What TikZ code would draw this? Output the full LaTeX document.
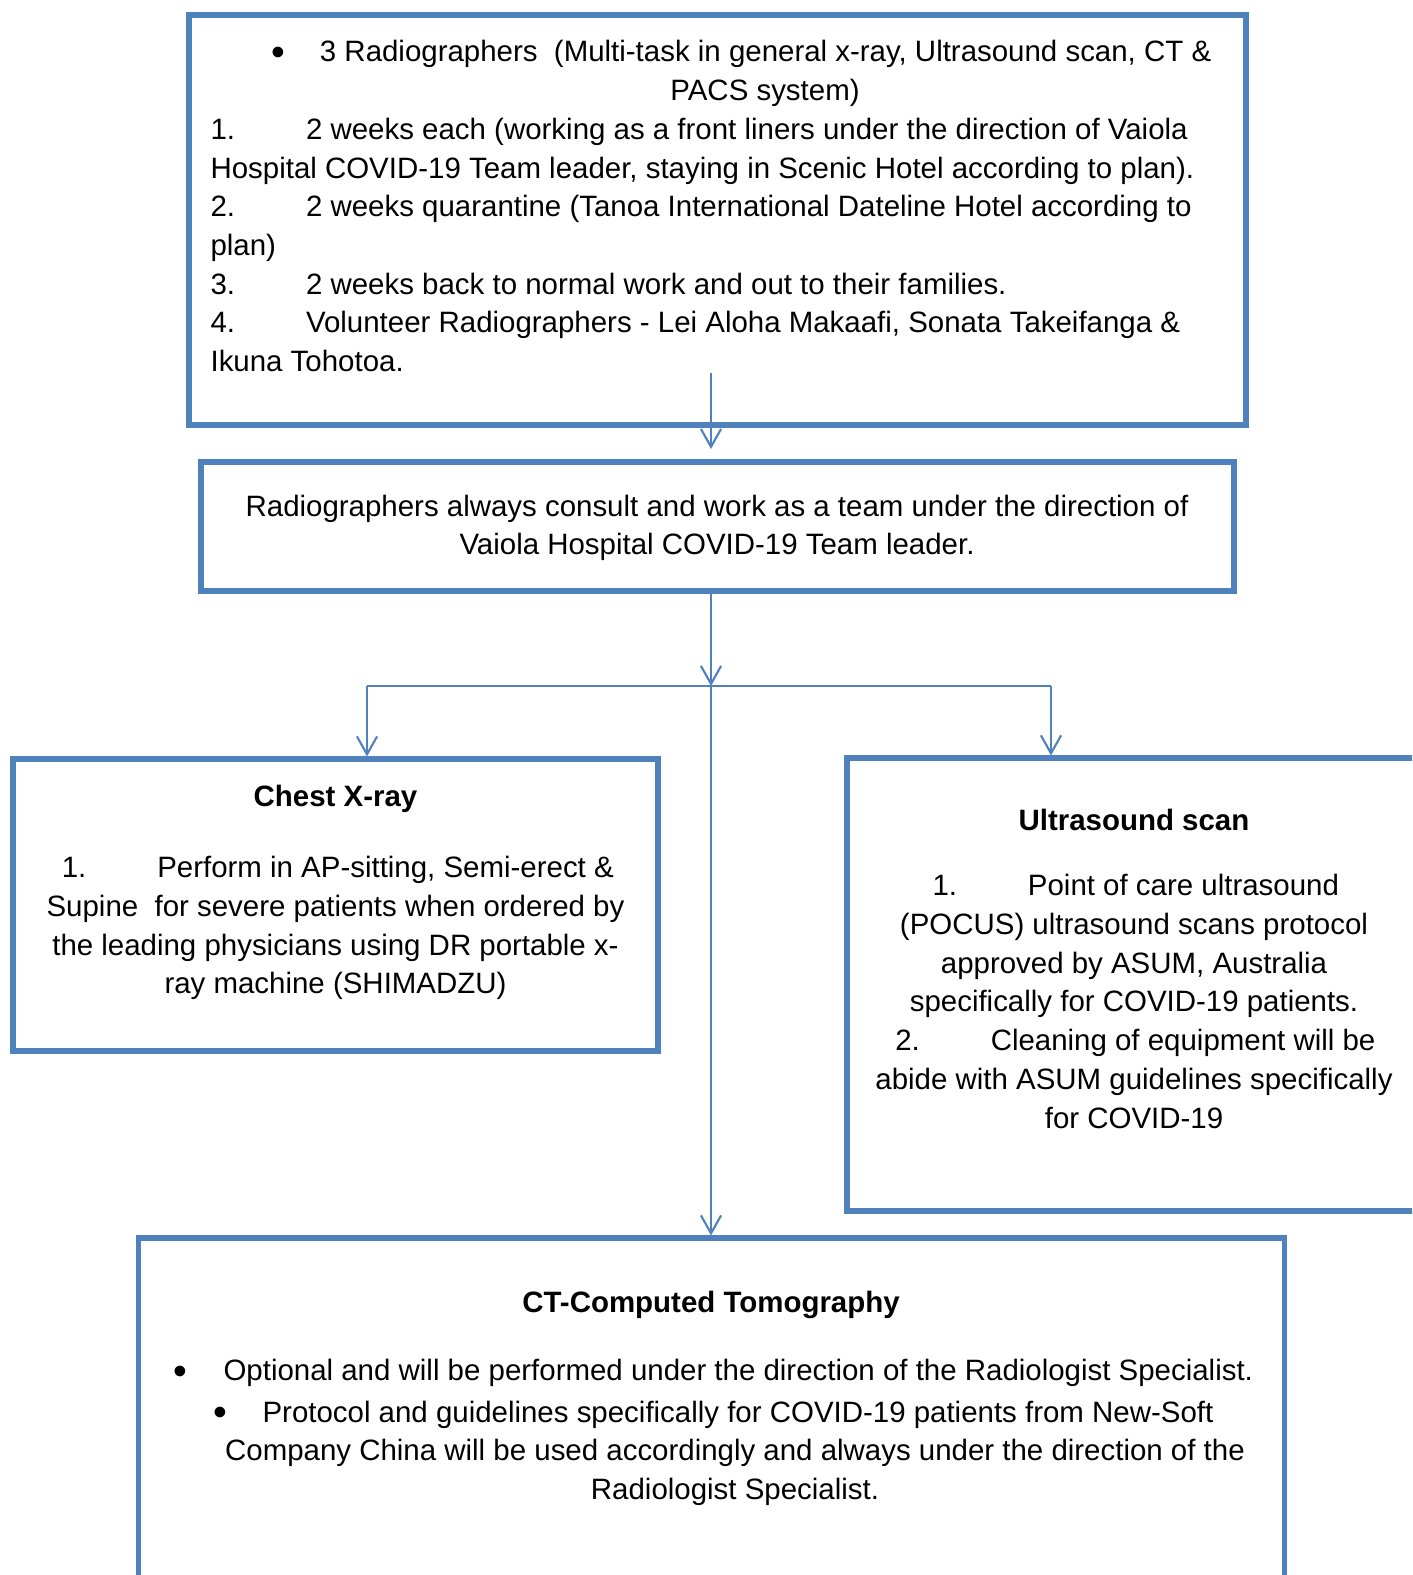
\documentclass[tikz,border=0pt]{standalone}
\usepackage{fontspec}
\setmainfont{Liberation Sans}
\usetikzlibrary{arrows.meta,fit}
\definecolor{frame}{HTML}{4F81BD}
\begin{document}
\begin{tikzpicture}[x=0.3566pt,y=-0.3566pt,
  panel/.style={draw=frame, line width=1.8pt, inner sep=0pt},
  link/.style={draw=frame, line width=0.75pt},
  tip/.style={-{Straight Barb[length=6.4pt,width=7.2pt,line width=0.75pt]}},
  txt/.style={font=\fontsize{10.5pt}{13.8pt}\selectfont, inner sep=0pt},
  lft/.style={txt, anchor=base west},
  mid/.style={txt, anchor=base},
  dot/.style={inner sep=0pt, anchor=center, font=\fontsize{14pt}{14pt}\selectfont},
  head/.style={mid, font=\fontsize{10.5pt}{13.8pt}\selectfont\bfseries}]
\useasboundingbox (0,0) rectangle (1412,1575);
\begin{scope}
\clip (0,0) rectangle (1412,1575);

% boxes
\node[panel, fit={(189,15) (1246,425)}] (staff) {};
\node[panel, fit={(201,462) (1234,591)}] (lead) {};
\node[panel, fit={(13,759) (658,1051)}] (xray) {};
\node[panel, fit={(847,758) (1450,1211)}] (us) {};
\node[panel, fit={(138.5,1238) (1284.5,1640)}] (ct) {};

% staffing plan
\node[dot] (s0b) at (278,56.5) {•};
\node[lft] (s0) at (319.4,62) {3 Radiographers\ \ (Multi-task in general x-ray, Ultrasound scan, CT \&};
\node[mid] (s0c) at (765,100.7) {PACS system)};
\node[lft] (s1n) at (210,139.4) {1.};
\node[lft] (s1) at (305.5,139.4) {2 weeks each (working as a front liners under the direction of Vaiola};
\node[lft] (s1c) at (210,178.1) {Hospital COVID-19 Team leader, staying in Scenic Hotel according to plan).};
\node[lft] (s2n) at (210,216.8) {2.};
\node[lft] (s2) at (305.5,216.8) {2 weeks quarantine (Tanoa International Dateline Hotel according to};
\node[lft] (s2c) at (210,255.5) {plan)};
\node[lft] (s3n) at (210,294.2) {3.};
\node[lft] (s3) at (305.5,294.2) {2 weeks back to normal work and out to their families.};
\node[lft] (s4n) at (210,332.9) {4.};
\node[lft] (s4) at (305.5,332.9) {Volunteer Radiographers - Lei Aloha Makaafi, Sonata Takeifanga \&};
\node[lft] (s4c) at (210,371.6) {Ikuna Tohotoa.};

% team leader
\node[mid] (l1) at (717,516) {Radiographers always consult and work as a team under the direction of};
\node[mid] (l2) at (717,554.7) {Vaiola Hospital COVID-19 Team leader.};

% chest x-ray
\node[head] (xh) at (335.5,806.4) {Chest X-ray};
\node[lft] (x1n) at (61.3,877.7) {1.};
\node[lft] (x1) at (156.7,877.7) {Perform in AP-sitting, Semi-erect \&};
\node[mid] (x2) at (335.5,916.4) {Supine\ \ for severe patients when ordered by};
\node[mid] (x3) at (335.5,955.1) {the leading physicians using DR portable x-};
\node[mid] (x4) at (335.5,993.8) {ray machine (SHIMADZU)};

% ultrasound
\node[head] (uh) at (1134,830.5) {Ultrasound scan};
\node[lft] (u1n) at (932,895.8) {1.};
\node[lft] (u1) at (1027.4,895.8) {Point of care ultrasound};
\node[mid] (u2) at (1134,934.5) {(POCUS) ultrasound scans protocol};
\node[mid] (u3) at (1134,973.2) {approved by ASUM, Australia};
\node[mid] (u4) at (1134,1011.9) {specifically for COVID-19 patients.};
\node[lft] (u5n) at (894.8,1050.6) {2.};
\node[lft] (u5) at (990.2,1050.6) {Cleaning of equipment will be};
\node[mid] (u6) at (1134,1089.3) {abide with ASUM guidelines specifically};
\node[mid] (u7) at (1134,1128) {for COVID-19};

% computed tomography
\node[head] (ch) at (711,1312.6) {CT-Computed Tomography};
\node[dot] (c1b) at (180.8,1375.4) {•};
\node[lft] (c1) at (223,1380.9) {Optional and will be performed under the direction of the Radiologist Specialist.};
\node[dot] (c2b) at (220,1416.5) {•};
\node[lft] (c2) at (262,1422) {Protocol and guidelines specifically for COVID-19 patients from New-Soft};
\node[mid] (c3) at (735,1460.7) {Company China will be used accordingly and always under the direction of the};
\node[mid] (c4) at (735,1499.4) {Radiologist Specialist.};

% connectors
\coordinate (a1s) at (711,373);
\coordinate (a1e) at (711,449);
\coordinate (j) at (711,686);
\coordinate (jl) at (367,686);
\coordinate (jr) at (1051,686);
\draw[link,tip] (a1s) -- (a1e);
\draw[link,tip] (j |- lead.south) -- (j);
\draw[link,tip] (j) -- (j |- ct.north);
\draw[link] (jl) -- (jr);
\draw[link,tip] (jl) -- (jl |- xray.north);
\draw[link,tip] (jr) -- (jr |- us.north);
\end{scope}
\end{tikzpicture}
\end{document}
